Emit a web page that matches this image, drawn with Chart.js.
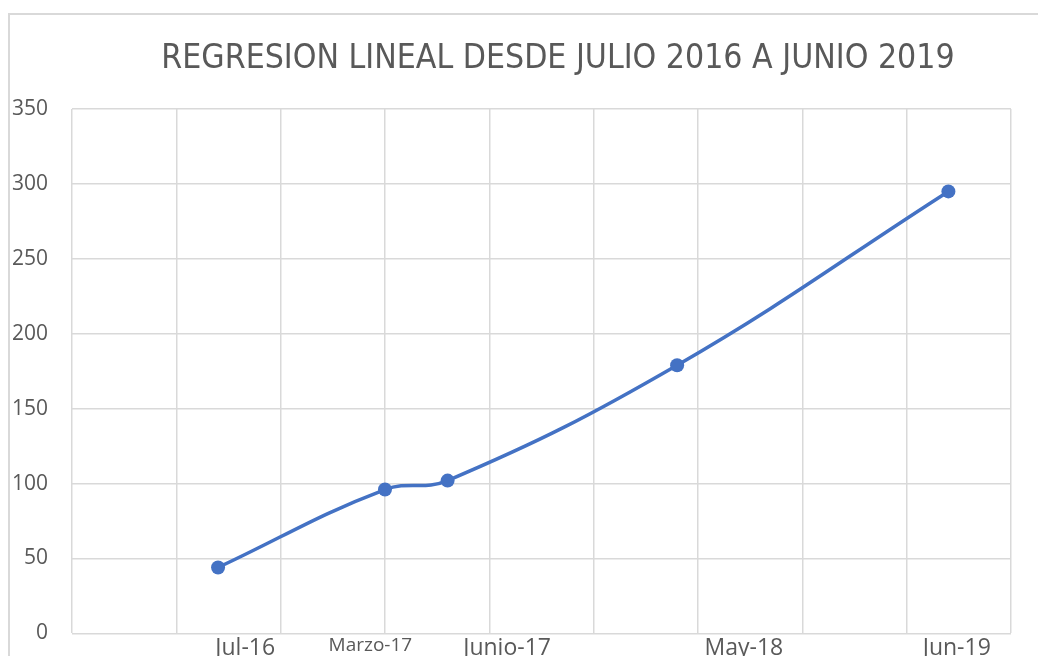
<!DOCTYPE html>
<html>
<head>
<meta charset="utf-8">
<script src="https://cdn.jsdelivr.net/npm/chart.js@4"></script>
<style>
  html, body { margin: 0; padding: 0; overflow: hidden; background: #fff; }
  #wrap { position: relative; width: 1038px; height: 670px; }
  #frame {
    position: absolute; left: 8px; top: 13px; width: 1200px; height: 800px;
    border-left: 2px solid #d9d9d9; border-top: 2px solid #d9d9d9;
    pointer-events: none;
  }
</style>
</head>
<body>
<div id="wrap">
  <canvas id="chart"></canvas>
  <div id="frame"></div>
</div>
<script>
// months counted from Dec 2015 (axis origin)
const monthIndex = [7, 15, 18, 29, 42];
const values = [44, 96, 102, 179, 295];

// bottom labels and where they sit (in the same month units)
const axisLabels = ['Jul-16', 'Marzo-17', 'Junio-17', 'May-18', 'Jun-19'];
const axisLabelPos = [8.3, 14.3, 20.85, 32.2, 42.4];

const yTicks = [0, 50, 100, 150, 200, 250, 300, 350];

const points = monthIndex.map((m, i) => ({ x: m, y: values[i] }));

const gridColor = '#d9d9d9';
const textColor = '#595959';

// the title sits centred over the plot area, not the whole canvas
const titleOffset = {
  id: 'titleOffset',
  afterLayout(chart) {
    if (chart.titleBlock) {
      chart.titleBlock.left = 105;
    }
  }
};

new Chart(document.getElementById('chart'), {
  type: 'line',
  data: {
    datasets: [{
      label: 'Regresion',
      data: points,
      borderColor: '#4472C4',
      backgroundColor: '#4472C4',
      borderWidth: 3.5,
      pointRadius: 7,
      pointBorderWidth: 0,
      tension: 0.4,
      fill: false
    }]
  },
  options: {
    responsive: true,
    maintainAspectRatio: false,
    animation: false,
    layout: { padding: { left: 0, right: 27, top: 0, bottom: 0 } },
    plugins: {
      legend: { display: false },
      tooltip: { enabled: false },
      title: {
        display: true,
        text: 'REGRESION LINEAL DESDE JULIO 2016 A JUNIO 2019',
        color: textColor,
        font: { family: '"DejaVu Sans Condensed", "Open Sans"', size: 33.5, weight: 'normal' },
        padding: { top: 39, bottom: 29.8 }
      }
    },
    scales: {
      x: {
        type: 'linear',
        position: 'bottom',
        min: 0,
        max: 45,
        ticks: { display: false, stepSize: 5 },
        grid: { color: gridColor, lineWidth: 1.5, drawTicks: false },
        border: { display: false }
      },
      xl: {
        type: 'linear',
        position: 'bottom',
        min: 0,
        max: 45,
        afterBuildTicks: axis => {
          axis.ticks = axisLabelPos.map(v => ({ value: v }));
        },
        ticks: {
          autoSkip: false,
          maxRotation: 0,
          padding: 1,
          color: textColor,
          callback: (v, i) => axisLabels[i],
          font: ctx => ({ family: '"Open Sans"', size: ctx.index === 1 ? 19 : 23 })
        },
        grid: { display: false, drawTicks: false },
        border: { display: false }
      },
      y: {
        min: 0,
        max: 350,
        afterBuildTicks: axis => {
          axis.ticks = yTicks.map(v => ({ value: v }));
        },
        afterFit: axis => { axis.width = 72; },
        ticks: {
          padding: 24,
          color: textColor,
          font: { family: '"Open Sans"', size: 21 }
        },
        grid: { color: gridColor, lineWidth: 1.5, drawTicks: false },
        border: { display: false }
      }
    }
  },
  plugins: [titleOffset]
});
</script>
</body>
</html>
